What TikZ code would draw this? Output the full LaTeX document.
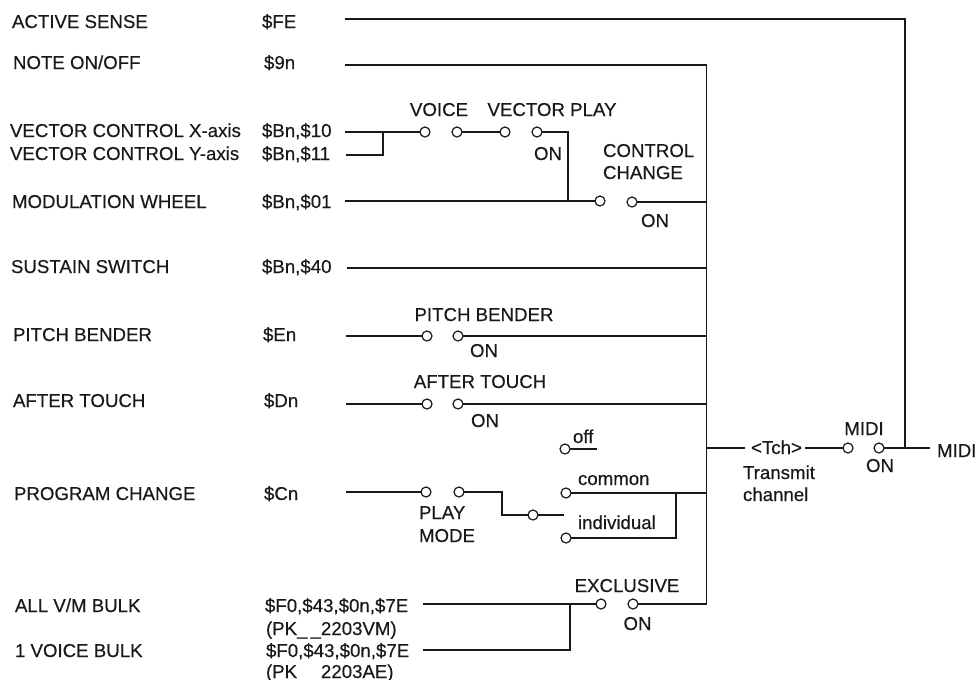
\documentclass[tikz,border=0pt]{standalone}
\usepackage{fontspec}
\setmainfont{Liberation Sans}
\newfontfamily\scanfont{Liberation Sans}[FakeBold=0.35]
\tikzset{
 every node/.style={inner sep=0pt,outer sep=0pt},
 lbl/.style={font=\scanfont\fontsize{14pt}{16pt}\selectfont,text=black!90,anchor=base west},
 ctr/.style={font=\scanfont\fontsize{14pt}{16pt}\selectfont,text=black!90,anchor=base},
 term/.style={circle,draw=black!90,line width=0.9pt,minimum size=7.5pt,fill=white},
 wire/.style={draw=black!90,line width=0.8pt},
}
\begin{document}
\begin{tikzpicture}[x=0.75pt,y=-0.75pt]
\useasboundingbox (0,0) rectangle (977,679);
% left labels
\node[lbl] (a1) at (12,28) {ACTIVE SENSE};
\node[lbl] (a2) at (262,28) {\$FE};
\node[lbl] (b1) at (13,69) {NOTE ON/OFF};
\node[lbl] (b2) at (264,69) {\$9n};
\node[lbl] (c1) at (10,137) {VECTOR CONTROL X-axis};
\node[lbl] (c2) at (262,137) {\$Bn,\$10};
\node[lbl] (d1) at (10,160) {VECTOR CONTROL Y-axis};
\node[lbl] (d2) at (262,160) {\$Bn,\$11};
\node[lbl] (e1) at (12,208) {MODULATION WHEEL};
\node[lbl] (e2) at (262,208) {\$Bn,\$01};
\node[lbl] (f1) at (11,273) {SUSTAIN SWITCH};
\node[lbl] (f2) at (262,273) {\$Bn,\$40};
\node[lbl] (g1) at (13,341) {PITCH BENDER};
\node[lbl] (g2) at (263,341) {\$En};
\node[lbl] (h1) at (13,407) {AFTER TOUCH};
\node[lbl] (h2) at (264,407) {\$Dn};
\node[lbl] (i1) at (14,500) {PROGRAM CHANGE};
\node[lbl] (i2) at (264,500) {\$Cn};
\node[lbl] (j1) at (15,612) {ALL V/M BULK};
\node[lbl] (j2) at (265,612) {\$F0,\$43,\$0n,\$7E};
\node[lbl] (j3) at (266,635) {(PK\_\,\_2203VM)};
\node[lbl] (k1) at (15,657) {1 VOICE BULK};
\node[lbl] (k2) at (266,657) {\$F0,\$43,\$0n,\$7E};
\node[lbl] (k3) at (266,678) {(PK\_\,\_2203AE)};
% terminals
\node[term] (v1) at (425,132) {};
\node[term] (v2) at (457,132) {};
\node[term] (v3) at (505,132) {};
\node[term] (v4) at (537,132) {};
\node[term] (cc1) at (600,201) {};
\node[term] (cc2) at (632,202) {};
\node[term] (pb1) at (427,336) {};
\node[term] (pb2) at (458,336) {};
\node[term] (at1) at (427,404) {};
\node[term] (at2) at (458,404) {};
\node[term] (off) at (565,449) {};
\node[term] (pm1) at (426,492) {};
\node[term] (pm2) at (459,492) {};
\node[term] (sel) at (533,515) {};
\node[term] (com) at (566,493) {};
\node[term] (ind) at (566,538) {};
\node[term] (ex1) at (601,604) {};
\node[term] (ex2) at (633,604) {};
\node[term] (m1) at (848,448) {};
\node[term] (m2) at (879,448) {};
% wire coordinates
\coordinate (fe0) at (345,19);
\coordinate (fecorner) at (905,19);
\coordinate (fej) at (905,448);
\coordinate (n0) at (345,65);
\coordinate (busT) at (706.5,65);
\coordinate (x0) at (345,132);
\coordinate (y0) at (346,155);
\coordinate (yj) at (383,155);
\coordinate (xj) at (383,132);
\coordinate (vc) at (568,132);
\coordinate (vj) at (568,201);
\coordinate (mw0) at (345,201);
\coordinate (busM) at (706.5,202);
\coordinate (s0) at (347,268);
\coordinate (busS) at (706.5,268);
\coordinate (p0) at (346,336);
\coordinate (busP) at (706.5,336);
\coordinate (t0) at (346,404);
\coordinate (busA) at (706.5,404);
\coordinate (busC) at (706.5,448);
\coordinate (offe) at (597,449);
\coordinate (pc0) at (346,492);
\coordinate (s1) at (502,492);
\coordinate (s2) at (502,515);
\coordinate (s3) at (564,515);
\coordinate (busP2) at (706.5,493);
\coordinate (ij1) at (676,538);
\coordinate (ij2) at (676,493);
\coordinate (e0) at (423,604);
\coordinate (busB) at (706.5,604);
\coordinate (vb0) at (423,650);
\coordinate (vbj) at (570,650);
\coordinate (exj) at (570,604);
\coordinate (tc0) at (745,448);
\coordinate (tc1) at (805,448);
\coordinate (mo) at (930,448);
% wires
\draw[wire] (fe0) -- (fecorner) -- (fej);
\draw[wire] (n0) -- (busT) -- (busB) -- (ex2);
\draw[wire] (x0) -- (v1);
\draw[wire] (y0) -- (yj) -- (xj);
\draw[wire] (v2) -- (v3);
\draw[wire] (v4) -- (vc) -- (vj);
\draw[wire] (mw0) -- (cc1);
\draw[wire] (cc2) -- (busM);
\draw[wire] (s0) -- (busS);
\draw[wire] (p0) -- (pb1);
\draw[wire] (pb2) -- (busP);
\draw[wire] (t0) -- (at1);
\draw[wire] (at2) -- (busA);
\draw[wire] (off) -- (offe);
\draw[wire] (pc0) -- (pm1);
\draw[wire] (pm2) -- (s1) -- (s2) -- (sel);
\draw[wire] (sel) -- (s3);
\draw[wire] (com) -- (busP2);
\draw[wire] (ind) -- (ij1) -- (ij2);
\draw[wire] (e0) -- (ex1);
\draw[wire] (vb0) -- (vbj) -- (exj);
\draw[wire] (busC) -- (tc0);
\draw[wire] (tc1) -- (m1);
\draw[wire] (m2) -- (mo);
% labels
\node[ctr] (lv) at (439,116) {VOICE};
\node[ctr] (lvp) at (552,116) {VECTOR PLAY};
\node[ctr] (lon1) at (548,160) {ON};
\node[lbl] (lcc) at (603,157) {CONTROL};
\node[lbl] (lcc2) at (603,179) {CHANGE};
\node[ctr] (lon2) at (655,227) {ON};
\node[ctr] (lpb) at (484,321) {PITCH BENDER};
\node[ctr] (lon3) at (484,357) {ON};
\node[ctr] (lat) at (480,388) {AFTER TOUCH};
\node[ctr] (lon4) at (485,427) {ON};
\node[lbl] (loff) at (573,443) {off};
\node[lbl] (lcom) at (578,485) {common};
\node[lbl] (lind) at (578,529) {individual};
\node[lbl] (lplay) at (419,519) {PLAY};
\node[lbl] (lmode) at (419,542) {MODE};
\node[ctr] (lex) at (627,592) {EXCLUSIVE};
\node[ctr] (lon5) at (637.5,630) {ON};
\node[ctr] (ltch) at (776.5,454) {<Tch>};
\node[lbl] (lt1) at (743,479) {Transmit};
\node[lbl] (lt2) at (743,501) {channel};
\node[ctr] (lm1) at (864,435) {MIDI};
\node[ctr] (lon6) at (880,472) {ON};
\node[lbl] (lm2) at (937,457) {MIDI};
\end{tikzpicture}
\end{document}
